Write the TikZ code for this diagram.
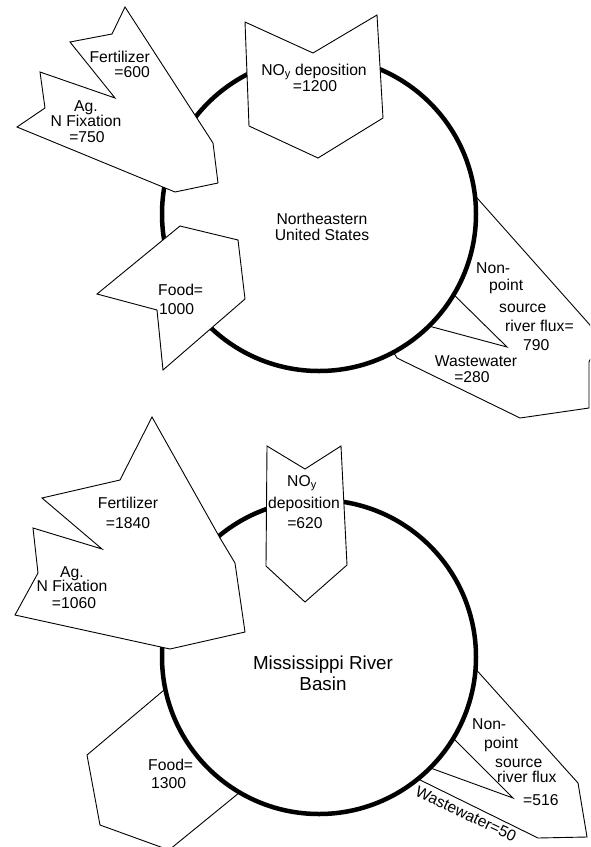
\documentclass[tikz,border=0pt]{standalone}
\usepackage{fontspec}
\setmainfont{Liberation Sans}
\begin{document}
\begin{tikzpicture}[x=1pt,y=-1pt,
  flow/.style={draw,fill=white,line width=0.9pt},
  notch/.style={line width=0.9pt},
  region/.style={draw,fill=white,line width=4.5pt},
  lbl/.style={inner sep=0pt,font=\fontsize{15.7}{16}\selectfont},
  big/.style={inner sep=0pt,font=\fontsize{18.8}{21}\selectfont}]
  \useasboundingbox (0,0) rectangle (590,847);
  \clip (0,0) rectangle (590,847);

  \draw[flow] (470,190) -- (590,325) -- (598,343) -- (589,362) -- (589,408)
    -- (520,418) -- (397,358) -- (380,330) -- (440,250) -- cycle;
  \draw[notch] (447,288) -- (507,347) -- (425,325);
  \draw[region] (319,214) circle[radius=157pt];
  \draw[flow] (125,7) -- (112,34) -- (70,42) -- (115,98) -- (40,72) -- (45,108)
    -- (17,127) -- (175,192) -- (218,183) -- (213,143) -- cycle;
  \draw[flow] (245,22) -- (313,53) -- (377,15) -- (383,118) -- (318,158)
    -- (249,126) -- cycle;
  \draw[flow] (180,226) -- (238,240) -- (245,299) -- (163,370) -- (157,310)
    -- (97,294) -- cycle;

  \node[lbl,anchor=base east] (fert1) at (150,62) {Fertilizer};
  \node[lbl,anchor=base east] (fert1v) at (150,77) {=600};
  \node[lbl,anchor=base] (ag1) at (86,111) {Ag.};
  \node[lbl,anchor=base] (fix1) at (86,126) {N Fixation};
  \node[lbl,anchor=base] (fix1v) at (87,142) {=750};
  \node[lbl,anchor=base] (noy1) at (314,75) {NO\textsubscript{y} deposition};
  \node[lbl,anchor=base] (noy1v) at (315,91) {=1200};
  \node[lbl,anchor=base west] (food1) at (158,295) {Food=};
  \node[lbl,anchor=base west] (food1v) at (159,314) {1000};
  \node[lbl,anchor=base] (ne1) at (322,224) {Northeastern};
  \node[lbl,anchor=base] (ne2) at (322,240) {United States};
  \node[lbl,anchor=base west] (nps1a) at (476,273) {Non-};
  \node[lbl,anchor=base west] (nps1b) at (489,290) {point};
  \node[lbl,anchor=base west] (nps1c) at (499,312) {source};
  \node[lbl,anchor=base west] (nps1d) at (505,331) {river flux=};
  \node[lbl,anchor=base west] (nps1v) at (523,350) {790};
  \node[lbl,anchor=base] (ww1) at (476,366) {Wastewater};
  \node[lbl,anchor=base] (ww1v) at (472,382) {=280};

  \draw[flow] (472,665) -- (578,783) -- (587,837) -- (538,838) -- (410,775)
    -- (420,720) -- cycle;
  \draw[notch] (450,735) -- (513,798) -- (425,766);
  \draw[flow] (87,755) -- (100,825) -- (169,850) -- (245,788) -- (250,720)
    -- (170,685) -- cycle;
  \draw[region] (319,657) circle[radius=157pt];
  \draw[flow] (152,417) -- (220,538) -- (235,563) -- (245,632) -- (170,649)
    -- (15,615) -- (38,573) -- (33,528) -- (102,549) -- (42,498) -- (120,480) -- cycle;
  \draw[flow] (267,446) -- (305,469) -- (341,446) -- (347,565) -- (305,602)
    -- (266,566) -- cycle;

  \node[lbl,anchor=base] (fert2) at (128,508) {Fertilizer};
  \node[lbl,anchor=base] (fert2v) at (128,528) {=1840};
  \node[lbl,anchor=base] (ag2) at (72,577) {Ag.};
  \node[lbl,anchor=base] (fix2) at (72,591) {N Fixation};
  \node[lbl,anchor=base] (fix2v) at (74,608) {=1060};
  \node[lbl,anchor=base] (noy2) at (302,486) {NO\textsubscript{y}};
  \node[lbl,anchor=base] (noy2a) at (304,508) {deposition};
  \node[lbl,anchor=base] (noy2v) at (305,528) {=620};
  \node[lbl,anchor=base west] (food2) at (148,770) {Food=};
  \node[lbl,anchor=base west] (food2v) at (151,788) {1300};
  \node[big,anchor=base] (ms1) at (323,669) {Mississippi River};
  \node[big,anchor=base] (ms2) at (323,690) {Basin};
  \node[lbl,anchor=base west] (nps2a) at (472,729) {Non-};
  \node[lbl,anchor=base west] (nps2b) at (484,748) {point};
  \node[lbl,anchor=base west] (nps2c) at (495,767) {source};
  \node[lbl,anchor=base west] (nps2d) at (497,782) {river flux};
  \node[lbl,anchor=base west] (nps2v) at (523,805) {=516};
  \node[lbl,rotate=-25] (ww2) at (466,814) {Wastewater=50};
\end{tikzpicture}
\end{document}
